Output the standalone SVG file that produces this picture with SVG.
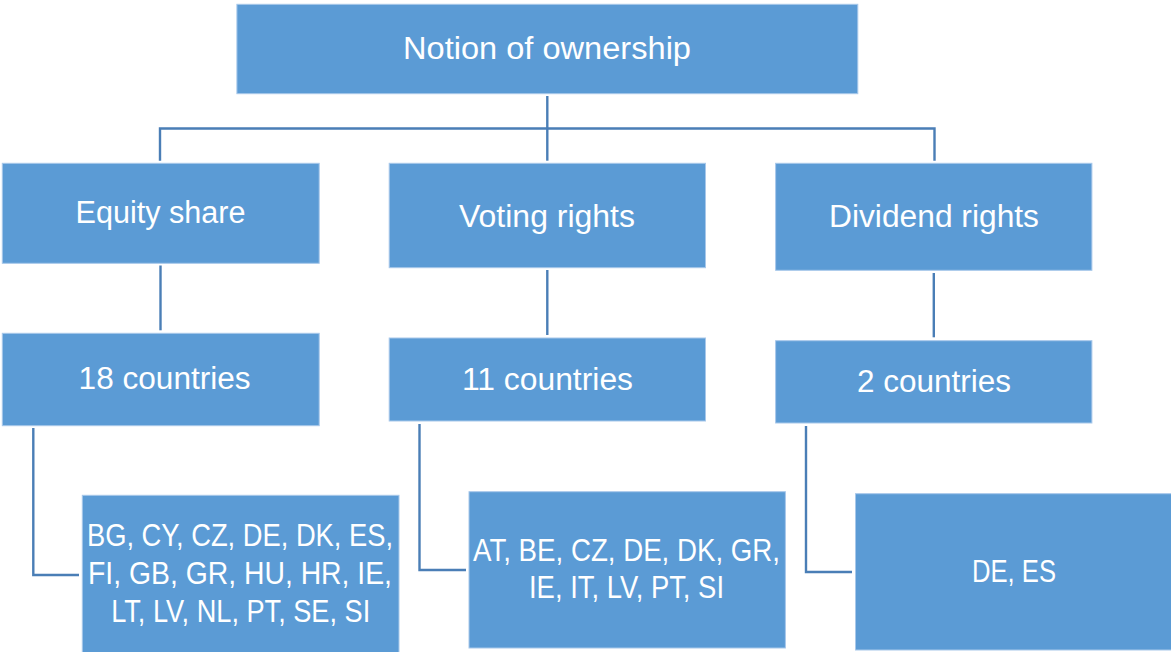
<svg xmlns="http://www.w3.org/2000/svg" width="1171" height="652" viewBox="0 0 1171 652">
<style>
.box{fill:#5b9bd5;stroke:#a8c8ea;stroke-width:1}
.lbl{font-family:"Liberation Sans",Arial,sans-serif;font-size:31px;fill:#ffffff;text-anchor:middle}
.con{fill:none;stroke:#4a7eb6;stroke-width:2.4}
</style>
<rect x="0" y="0" width="1171" height="652" fill="#ffffff"/>
<g id="connectors">
<path class="con" d="M547.3,96 V160.7"/>
<path class="con" d="M160,160.7 V128.5 H934.5 V160.7"/>
<path class="con" d="M160.5,265.5 V330.3"/>
<path class="con" d="M547.3,270 V335"/>
<path class="con" d="M933.8,273 V337.3"/>
<path class="con" d="M33.3,428 V575 H79"/>
<path class="con" d="M419.5,424 V570 H466"/>
<path class="con" d="M806,426 V572 H852"/>
</g>
<g id="n-root">
<rect class="box" x="236.9" y="4.3" width="620.9" height="89.4"/>
<text class="lbl" x="547" y="59" textLength="288" lengthAdjust="spacingAndGlyphs">Notion of ownership</text>
</g>
<g id="n-equity">
<rect class="box" x="2.3" y="163.3" width="316.9" height="100"/>
<text class="lbl" x="160.5" y="222.5" textLength="170" lengthAdjust="spacingAndGlyphs">Equity share</text>
</g>
<g id="n-voting">
<rect class="box" x="389.2" y="163.3" width="316.3" height="104.4"/>
<text class="lbl" x="547" y="226.6" textLength="176" lengthAdjust="spacingAndGlyphs">Voting rights</text>
</g>
<g id="n-dividend">
<rect class="box" x="775.6" y="163.3" width="316.3" height="107"/>
<text class="lbl" x="934" y="227.3" textLength="210" lengthAdjust="spacingAndGlyphs">Dividend rights</text>
</g>
<g id="n-equity-count">
<rect class="box" x="2.3" y="333.3" width="316.9" height="92.4"/>
<text class="lbl" x="164.6" y="389" textLength="172" lengthAdjust="spacingAndGlyphs">18 countries</text>
</g>
<g id="n-voting-count">
<rect class="box" x="389.2" y="338" width="316.3" height="83"/>
<text class="lbl" x="547.5" y="390" textLength="171" lengthAdjust="spacingAndGlyphs">11 countries</text>
</g>
<g id="n-dividend-count">
<rect class="box" x="775.6" y="340.7" width="316.3" height="82.3"/>
<text class="lbl" x="934" y="391.5" textLength="154" lengthAdjust="spacingAndGlyphs">2 countries</text>
</g>
<g id="n-equity-list">
<rect class="box" x="82.3" y="495.3" width="316.7" height="160"/>
<text class="lbl" x="240" y="546" textLength="306" lengthAdjust="spacingAndGlyphs">BG, CY, CZ, DE, DK, ES,</text>
<text class="lbl" x="240" y="584" textLength="304" lengthAdjust="spacingAndGlyphs">FI, GB, GR, HU, HR, IE,</text>
<text class="lbl" x="240.7" y="621.5" textLength="259" lengthAdjust="spacingAndGlyphs">LT, LV, NL, PT, SE, SI</text>
</g>
<g id="n-voting-list">
<rect class="box" x="469" y="491.7" width="316.4" height="156.3"/>
<text class="lbl" x="626.5" y="560.5" textLength="307" lengthAdjust="spacingAndGlyphs">AT, BE, CZ, DE, DK, GR,</text>
<text class="lbl" x="626.5" y="598.3" textLength="195" lengthAdjust="spacingAndGlyphs">IE, IT, LV, PT, SI</text>
</g>
<g id="n-dividend-list">
<rect class="box" x="855.5" y="493.7" width="318" height="156.3"/>
<text class="lbl" x="1014" y="581.7" textLength="84" lengthAdjust="spacingAndGlyphs">DE, ES</text>
</g>
</svg>
